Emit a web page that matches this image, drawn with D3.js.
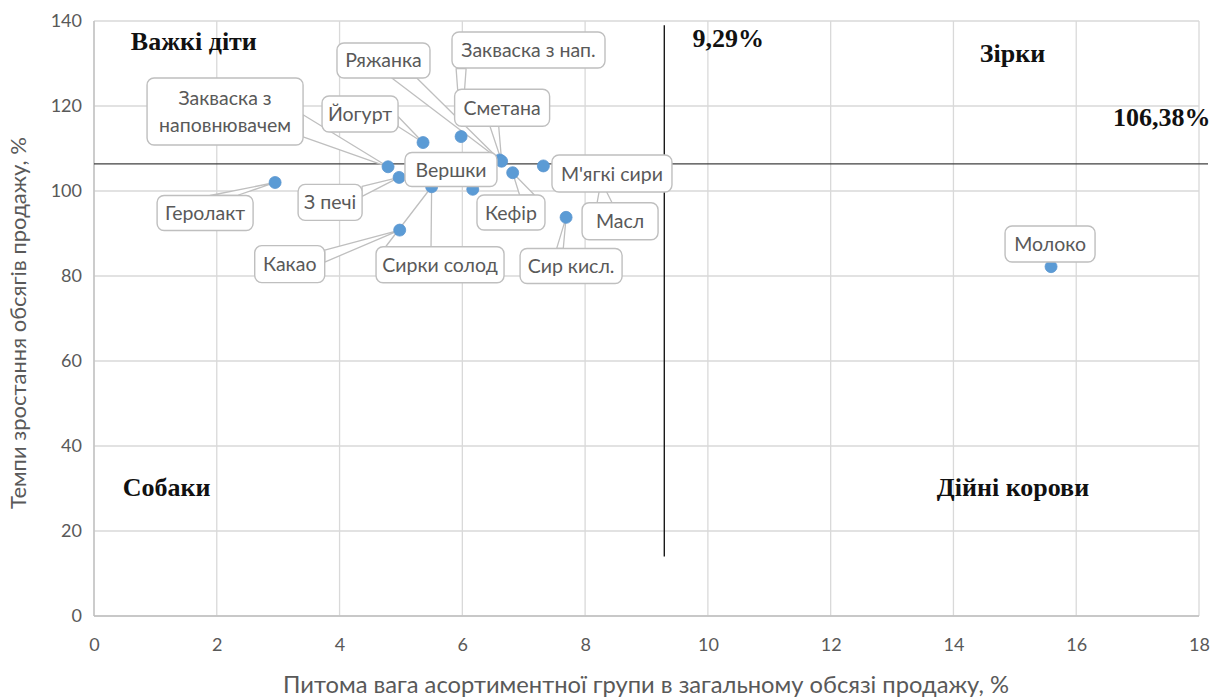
<!DOCTYPE html>
<html>
<head>
<meta charset="utf-8">
<script src="https://cdn.jsdelivr.net/npm/d3@7"></script>
<style>
  html, body { margin: 0; padding: 0; background: #ffffff; }
  svg { display: block; }
</style>
</head>
<body>
<div id="chart"></div>
<script>
// ---- data -------------------------------------------------------------
const products = [
  "Геролакт", "Закваска з\nнаповнювачем", "Йогурт", "З печі", "Какао",
  "Сирки солод", "Закваска з нап.", "Ряжанка", "Сметана", "Вершки",
  "Кефір", "М'ягкі сири", "Масл", "Сир кисл.", "Молоко"
];
// share of the assortment group in total sales, %
const shareValues = [2.95, 4.79, 5.36, 4.97, 4.98, 5.50, 5.98, 6.61, 6.64, 6.17, 6.82, 7.32, 8.26, 7.69, 15.59];
// sales volume growth rate, %
const growthValues = [102.0, 105.7, 111.4, 103.2, 90.8, 101.0, 112.8, 107.3, 107.0, 100.4, 104.3, 105.9, 102.4, 93.8, 82.2];

const xTicks = [0, 2, 4, 6, 8, 10, 12, 14, 16, 18];
const yTicks = [0, 20, 40, 60, 80, 100, 120, 140];

const shareThreshold = 9.29;
const growthThreshold = 106.38;
const thresholdLabels = ["9,29%", "106,38%"];
const quadrantNames = ["Важкі діти", "Зірки", "Собаки", "Дійні корови"];

const xTitle = "Питома вага асортиментної групи в загальному обсязі продажу, %";
const yTitle = "Темпи зростання обсягів продажу, %";

// ---- layout -----------------------------------------------------------
const W = 1210, H = 698;
const margin = { top: 21, right: 11, bottom: 82, left: 94 };
const iw = W - margin.left - margin.right;
const ih = H - margin.top - margin.bottom;

// callout boxes: centre offset from the marker, size, wedge base (both ends, relative to marker)
const calloutLayout = [
  { dx: -70,  dy: 30.5,  w: 96,  h: 35, wedge: [-65, 13, -38, 13] },     // Геролакт
  { dx: -163, dy: -55.3, w: 156, h: 67, wedge: [-85, -52, -85, -30] },   // Закваска з наповнювачем
  { dx: -63,  dy: -28.5, w: 76,  h: 36, wedge: [-25, -26, -25, -16] },   // Йогурт
  { dx: -69,  dy: 25,    w: 64,  h: 36, wedge: [-37, 9, -37, 19] },      // З печі
  { dx: -110, dy: 34,    w: 70,  h: 37, wedge: [-75, 20, -75, 32] },     // Какао
  { dx: 8.4,  dy: 78,    w: 128, h: 36, wedge: [-46, 60, -0.6, 60] },    // Сирки солод
  { dx: 67.4, dy: -86.6, w: 153, h: 36, wedge: [-5, -68, 5, -68] },      // Закваска з нап.
  { dx: -116.3, dy: -99.5, w: 93, h: 35, wedge: [-108, -82, -83, -82] }, // Ряжанка
  { dx: 0.5,  dy: -53.5, w: 95,  h: 37, wedge: [-12, -36, -3, -36] },    // Сметана
  { dx: -21.8, dy: -19.8, w: 92, h: 34, wedge: null },                   // Вершки
  { dx: -1.7, dy: 39.8,  w: 68,  h: 35, wedge: [7, 22.5, 22, 22.5] },    // Кефір
  { dx: 68.6, dy: 7.6,   w: 120, h: 37, wedge: null },                   // М'ягкі сири
  { dx: 19,   dy: 40.5,  w: 76,  h: 37, wedge: [-4, 22, 11, 22] },       // Масл
  { dx: 5,    dy: 48.6,  w: 102, h: 35, wedge: [-9.4, 31, -2.8, 31] },   // Сир кисл.
  { dx: -1,   dy: -22.7, w: 90,  h: 36, wedge: null }                    // Молоко
];
// painting order of callouts (later ones sit on top)
const calloutOrder = [0, 1, 2, 3, 4, 5, 6, 7, 9, 10, 12, 11, 13, 8, 14];

const labelFont = "Lato, 'Open Sans', sans-serif";
const serifFont = "'Liberation Serif', 'Times New Roman', serif";
const gray = "#595959";

const svg = d3.select("#chart").append("svg")
  .attr("width", W).attr("height", H)
  .attr("viewBox", `0 0 ${W} ${H}`);

const x = d3.scaleLinear().domain([0, 18]).range([margin.left, margin.left + iw]);
const y = d3.scaleLinear().domain([0, 140]).range([margin.top + ih, margin.top]);

// ---- grid ---------------------------------------------------------------
const grid = svg.append("g").attr("class", "grid");
grid.selectAll("line.gx").data(xTicks).join("line")
  .attr("class", "gx")
  .attr("x1", d => x(d)).attr("x2", d => x(d))
  .attr("y1", y(140)).attr("y2", y(0))
  .attr("stroke", "#d9d9d9").attr("stroke-width", 1.3);
grid.selectAll("line.gy").data(yTicks).join("line")
  .attr("class", "gy")
  .attr("x1", x(0)).attr("x2", x(18))
  .attr("y1", d => y(d)).attr("y2", d => y(d))
  .attr("stroke", "#d9d9d9").attr("stroke-width", 1.3);
// axis lines
svg.append("line").attr("x1", x(0)).attr("x2", x(18)).attr("y1", y(0)).attr("y2", y(0))
  .attr("stroke", "#bfbfbf").attr("stroke-width", 1.3);
svg.append("line").attr("x1", x(0)).attr("x2", x(0)).attr("y1", y(0)).attr("y2", y(140))
  .attr("stroke", "#bfbfbf").attr("stroke-width", 1.3);

// ---- axes (tick labels) -----------------------------------------------------
const xAxis = svg.append("g").attr("transform", `translate(0,${y(0)})`)
  .call(d3.axisBottom(x).tickValues(xTicks).tickSize(0).tickPadding(22).tickFormat(d3.format("d")));
xAxis.select(".domain").remove();
xAxis.selectAll("text").attr("font-family", labelFont).attr("font-size", 18).attr("fill", gray);

const yAxis = svg.append("g").attr("transform", `translate(${x(0)},0)`)
  .call(d3.axisLeft(y).tickValues(yTicks).tickSize(0).tickPadding(12).tickFormat(d3.format("d")));
yAxis.select(".domain").remove();
yAxis.selectAll("text").attr("font-family", labelFont).attr("font-size", 18).attr("fill", gray);

// axis titles, sized to span the measured length
function fitText(sel, targetWidth) {
  const base = 18;
  sel.attr("font-size", base);
  const len = sel.node().getComputedTextLength();
  if (len > 0) sel.attr("font-size", base * targetWidth / len);
}
const xt = svg.append("text")
  .attr("x", 646).attr("y", 693)
  .attr("text-anchor", "middle")
  .attr("font-family", labelFont).attr("fill", gray)
  .text(xTitle);
fitText(xt, 726);
const yt = svg.append("text")
  .attr("transform", `translate(26,323) rotate(-90)`)
  .attr("text-anchor", "middle")
  .attr("font-family", labelFont).attr("fill", gray)
  .text(yTitle);
fitText(yt, 372);

// ---- threshold lines ------------------------------------------------------
svg.append("line")
  .attr("x1", x(0)).attr("x2", W - 2)
  .attr("y1", y(growthThreshold)).attr("y2", y(growthThreshold))
  .attr("stroke", "#404040").attr("stroke-width", 1.3);
svg.append("line")
  .attr("x1", x(shareThreshold)).attr("x2", x(shareThreshold))
  .attr("y1", y(139)).attr("y2", y(14))
  .attr("stroke", "#1a1a1a").attr("stroke-width", 1.4);

// ---- callout pointers, markers, callout boxes ----------------------------------
const pts = products.map((p, i) => ({
  name: p, px: x(shareValues[i]), py: y(growthValues[i]), lay: calloutLayout[i]
}));
const ordered = calloutOrder.map(i => pts[i]);

svg.append("g").selectAll("path").data(ordered.filter(d => d.lay.wedge)).join("path")
  .attr("d", d => {
    const [a, b, c, e] = d.lay.wedge;
    return `M${d.px + a},${d.py + b}L${d.px},${d.py}L${d.px + c},${d.py + e}Z`;
  })
  .attr("fill", "#ffffff").attr("stroke", "#bfbfbf").attr("stroke-width", 1.3)
  .attr("stroke-linejoin", "round");

svg.append("g").selectAll("circle").data(pts).join("circle")
  .attr("cx", d => d.px).attr("cy", d => d.py).attr("r", 6)
  .attr("fill", "#5b9bd5").attr("stroke", "#5a96cf").attr("stroke-width", 0.8);

const boxes = svg.append("g").selectAll("g").data(ordered).join("g")
  .attr("transform", d => `translate(${d.px + d.lay.dx},${d.py + d.lay.dy})`);
boxes.append("rect")
  .attr("x", d => -d.lay.w / 2).attr("y", d => -d.lay.h / 2)
  .attr("width", d => d.lay.w).attr("height", d => d.lay.h)
  .attr("rx", 7).attr("ry", 7)
  .attr("fill", "#ffffff").attr("stroke", "#bfbfbf").attr("stroke-width", 1.4);
boxes.each(function (d) {
  const lines = d.name.split("\n");
  const t = d3.select(this).append("text")
    .attr("text-anchor", "middle")
    .attr("font-family", labelFont).attr("font-size", 19.5).attr("fill", gray);
  lines.forEach((ln, k) => {
    t.append("tspan").attr("x", 0)
      .attr("y", (k - (lines.length - 1) / 2) * 27 + 7)
      .text(ln);
  });
});

// ---- quadrant and threshold captions ---------------------------------------------
const captions = [
  { text: quadrantNames[0], vx: 0.6, vy: 133.2, anchor: "start" },
  { text: quadrantNames[1], vx: 14.43, vy: 130.4, anchor: "start" },
  { text: quadrantNames[2], vx: 0.47, vy: 28.2, anchor: "start" },
  { text: quadrantNames[3], vx: 13.73, vy: 28.2, anchor: "start" },
  { text: thresholdLabels[0], vx: 9.75, vy: 133.9, anchor: "start" },
  { text: thresholdLabels[1], vx: 16.6, vy: 115.3, anchor: "start" }
];
svg.append("g").selectAll("text").data(captions).join("text")
  .attr("x", d => x(d.vx)).attr("y", d => y(d.vy))
  .attr("text-anchor", d => d.anchor)
  .attr("font-family", serifFont).attr("font-weight", "bold")
  .attr("font-size", 26).attr("fill", "#111111")
  .text(d => d.text);
</script>
</body>
</html>
